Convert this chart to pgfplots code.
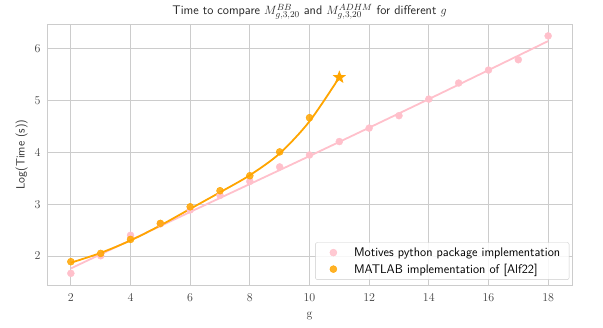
\documentclass[border=0pt]{standalone}
\usepackage{pgfplots}
\pgfplotsset{compat=1.18}

\definecolor{pinkc}{RGB}{255,192,203}
\definecolor{orangec}{RGB}{255,165,0}
\definecolor{gridc}{RGB}{204,204,204}

% filled five-pointed star
\pgfdeclareplotmark{fstar}{%
  \pgfpathmoveto{\pgfqpointpolar{90}{\pgfplotmarksize}}%
  \pgfpathlineto{\pgfqpointpolar{126}{0.42\pgfplotmarksize}}%
  \pgfpathlineto{\pgfqpointpolar{162}{\pgfplotmarksize}}%
  \pgfpathlineto{\pgfqpointpolar{198}{0.42\pgfplotmarksize}}%
  \pgfpathlineto{\pgfqpointpolar{234}{\pgfplotmarksize}}%
  \pgfpathlineto{\pgfqpointpolar{270}{0.42\pgfplotmarksize}}%
  \pgfpathlineto{\pgfqpointpolar{306}{\pgfplotmarksize}}%
  \pgfpathlineto{\pgfqpointpolar{342}{0.42\pgfplotmarksize}}%
  \pgfpathlineto{\pgfqpointpolar{18}{\pgfplotmarksize}}%
  \pgfpathlineto{\pgfqpointpolar{54}{0.42\pgfplotmarksize}}%
  \pgfpathclose
  \pgfusepathqfill}

\begin{document}
\begin{tikzpicture}
\begin{axis}[
    name=ax,
    scale only axis,
    width=525pt, height=261pt,
    xmin=1.2, xmax=18.8,
    ymin=1.44, ymax=6.48,
    xtick={2,4,...,18},
    ytick={2,3,4,5,6},
    tick style={draw=none},
    grid=major,
    grid style={gridc, line width=0.8pt},
    axis line style={gridc, line width=0.8pt},
    ticklabel style={font=\fontsize{12}{14}\selectfont, text=black!75},
    xticklabel style={yshift=-5pt},
    yticklabel style={xshift=-3pt},
    xlabel={g},
    ylabel={\sffamily Log(Time (s))},
    label style={font=\fontsize{12}{14}\selectfont, text=black!80},
    xlabel style={yshift=-4pt},
    title={\sffamily Time to compare $M_{g,3,20}^{BB}$ and $M_{g,3,20}^{ADHM}$ for different $g$},
    title style={font=\fontsize{12.5}{14}\selectfont, text=black!85, yshift=-5pt},
    legend cell align=left,
    legend style={font=\sffamily\fontsize{12.5}{15}\selectfont, draw=gridc, rounded corners=2pt,
        fill=white, fill opacity=0.85, text opacity=1, inner xsep=7pt, inner ysep=3pt,
        row sep=2pt, at={(0.995,0.02)}, anchor=south east},
    legend image code/.code={\path[draw=none] (0pt,0pt) -- (29.7pt,0pt);
        \draw[mark=*, mark size=3.5pt, mark options={draw=none}] plot coordinates {(11pt,0pt)};},
]
% Motives python package
\addplot[only marks, mark=*, mark size=3.5pt, color=pinkc, mark options={draw=none}] coordinates {
    (2,1.665) (3,2.005) (4,2.40) (5,2.62) (6,2.89) (7,3.17) (8,3.44) (9,3.72)
    (10,3.95) (11,4.21) (12,4.47) (13,4.71) (14,5.03) (15,5.34) (16,5.59)
    (17,5.79) (18,6.25)
};
\addlegendentry{Motives python package implementation}
% MATLAB
\addplot[only marks, mark=*, mark size=3.5pt, color=orangec, mark options={draw=none, fill opacity=0.85}] coordinates {
    (2,1.89) (3,2.05) (4,2.32) (5,2.63) (6,2.95) (7,3.26) (8,3.55) (9,4.01) (10,4.67)
};
\addlegendentry{MATLAB implementation of [Alf22]}
% fitted curves
\addplot[smooth, color=pinkc, line width=1.8pt, forget plot] coordinates {
    (2,1.76) (6,2.85) (10,3.93) (14,5.03) (18,6.15)
};
\addplot[smooth, color=orangec, line width=1.8pt, forget plot] coordinates {
    (2,1.87) (3,2.06) (4,2.30) (5,2.59) (6,2.91) (7,3.23) (8,3.56) (9,3.98) (10,4.60) (11,5.45)
};
\addplot[only marks, mark=fstar, mark size=7pt, color=orangec, forget plot] coordinates {(11,5.45)};
\end{axis}
\pgfresetboundingbox
\path ([shift={(-47pt,-43pt)}]ax.south west) rectangle ([shift={(31pt,24pt)}]ax.north east);
\end{tikzpicture}
\end{document}
